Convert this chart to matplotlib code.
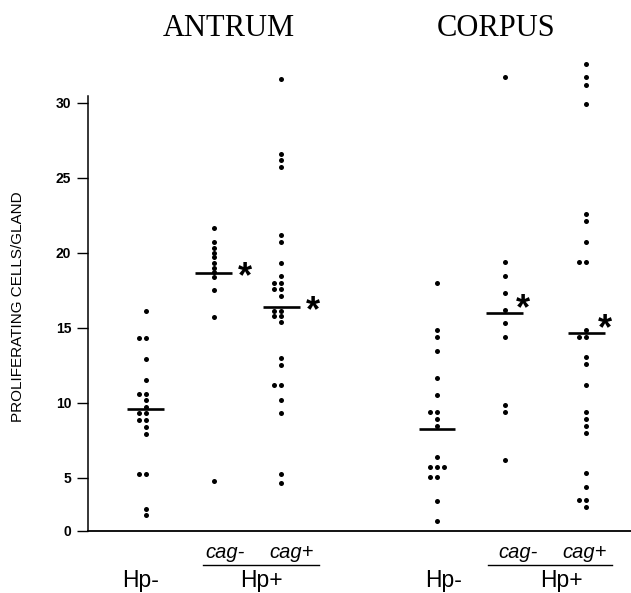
import numpy as np
import matplotlib.pyplot as plt

plt.rcParams['font.family'] = ['Liberation Sans', 'DejaVu Sans']

# proliferating cells per gland, one list per group
antrum_hp_neg = [16.1, 14.3, 14.3, 12.9, 11.5, 10.6, 10.6, 10.2, 9.7, 9.3, 9.3,
                 8.85, 8.85, 8.4, 7.9, 5.25, 5.25, 2.95, 2.5]
antrum_cag_neg = [21.65, 20.7, 20.35, 20.0, 19.7, 19.35, 19.0, 18.75, 18.4,
                  17.5, 15.7, 4.8]
antrum_cag_pos = [31.6, 26.6, 26.2, 25.7, 21.2, 20.7, 19.33, 18.45, 17.96, 17.96,
                  17.58, 17.58, 17.13, 16.11, 16.11, 15.78, 15.78, 15.4, 12.96,
                  12.5, 11.18, 11.18, 10.2, 9.33, 5.25, 4.63]
corpus_hp_neg = [17.96, 14.85, 14.36, 13.45, 11.63, 10.51, 9.36, 9.36, 8.89, 8.45,
                 6.4, 5.71, 5.71, 5.71, 5.05, 5.05, 3.45, 2.11]
corpus_cag_neg = [31.7, 19.4, 18.47, 17.33, 16.18, 15.29, 14.4, 9.85, 9.4, 6.18]
corpus_cag_pos = [32.6, 31.7, 31.2, 29.9, 22.6, 22.13, 20.73, 19.4, 19.4, 14.85,
                  14.4, 14.4, 13.03, 12.56, 11.18, 9.4, 8.91, 8.47, 8.0, 5.33,
                  4.4, 3.51, 3.51, 3.07]

medians = [9.56, 18.67, 16.4, 8.22, 16.0, 14.67]
significant = [False, True, True, False, True, True]

groups = [antrum_hp_neg, antrum_cag_neg, antrum_cag_pos,
          corpus_hp_neg, corpus_cag_neg, corpus_cag_pos]

y_ticks = [5, 10, 15, 20, 25, 30]

# layout
positions = [0.85, 1.85, 2.85, 5.14, 6.14, 7.34]
star_dx = [0, 0.46, 0.46, 0, 0.27, 0.27]
star_dy = [0, 0.3, 0.3, 0, 0.85, 0.8]
Y_ORIGIN = 1.45   # where the drawn "0" baseline sits


def dodge(values, tol=0.2, step=0.105):
    placed = []
    offs = []
    for v in values:
        for off in (0.0, -step, step, -2 * step):
            if all(abs(v - pv) >= tol for pv, po in placed if po == off):
                break
        placed.append((v, off))
        offs.append(off)
    return np.array(offs)


fig = plt.figure(figsize=(6.31, 5.93), dpi=100)
ax = fig.add_axes([88 / 631, 62 / 593, 543 / 631, 476 / 593])

for pos, vals, med, sig, sdx, sdy in zip(positions, groups, medians, significant,
                                         star_dx, star_dy):
    xs = pos + dodge(vals)
    ax.plot(xs, vals, 'o', color='black', ms=3.6, mew=0, clip_on=False)
    ax.hlines(med, pos - 0.27, pos + 0.27, color='black', lw=1.9)
    if sig:
        ax.text(pos + sdx, med + sdy - 1.25, '*', fontsize=26, fontweight='bold',
                ha='center', va='baseline')

ax.set_xlim(0, 8)
ax.set_ylim(Y_ORIGIN, Y_ORIGIN + 476 / 15)
ax.set_xticks([])
ax.set_yticks([Y_ORIGIN] + y_ticks)
ax.set_yticklabels(['0'] + [str(t) for t in y_ticks], fontweight='bold')
ax.tick_params(axis='y', length=8, width=1, pad=4, labelsize=10)
for side in ['top', 'right']:
    ax.spines[side].set_visible(False)
ax.spines['left'].set_linewidth(1.1)
ax.spines['bottom'].set_linewidth(1.3)
ax.spines['left'].set_bounds(Y_ORIGIN, 30.45)

# group labels below the axis
tr = ax.get_xaxis_transform()
for x, s in [(2.02, 'cag-'), (3.005, 'cag+'), (6.335, 'cag-'), (7.32, 'cag+')]:
    ax.text(x, -0.0567, s, transform=tr, fontsize=14.5, style='italic',
            ha='center', va='baseline')
for x, s in [(0.78, 'Hp-'), (2.55, 'Hp+'), (5.245, 'Hp-'), (6.97, 'Hp+')]:
    ax.text(x, -0.1166, s, transform=tr, fontsize=16.5, ha='center', va='baseline')
for x0, x1 in [(1.694, 3.403), (5.893, 7.72)]:
    ax.plot([x0, x1], [-0.0714, -0.0714], transform=tr, color='black', lw=1,
            clip_on=False)

fig.text(18.5 / 631, 1 - 307 / 593, 'PROLIFERATING CELLS/GLAND', rotation=90,
         ha='center', va='center', fontsize=11)
fig.text(229 / 631, 1 - 36 / 593, 'ANTRUM', family='Liberation Serif',
         fontsize=22, ha='center', va='baseline')
fig.text(496 / 631, 1 - 36 / 593, 'CORPUS', family='Liberation Serif',
         fontsize=22, ha='center', va='baseline')

fig.savefig('out.png', dpi=100)
